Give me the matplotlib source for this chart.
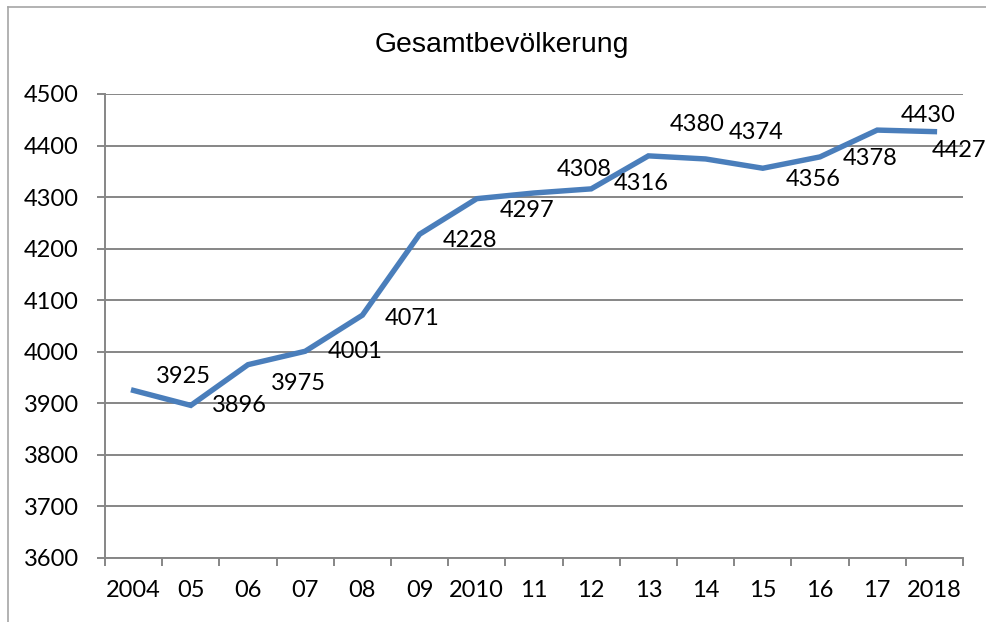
import matplotlib
matplotlib.use("Agg")
import matplotlib.pyplot as plt
from matplotlib.lines import Line2D

years = ["2004", "05", "06", "07", "08", "09", "2010", "11", "12", "13", "14", "15", "16", "17", "2018"]
population = [3925, 3896, 3975, 4001, 4071, 4228, 4297, 4308, 4316, 4380, 4374, 4356, 4378, 4430, 4427]
y_ticks = [3600, 3700, 3800, 3900, 4000, 4100, 4200, 4300, 4400, 4500]
title = "Gesamtbevölkerung"

# label offsets in pixels (dx, dy) relative to each point
label_dx = [50, 49, 50, 50, 50, 50, 50, 50, 50, 49, 51, 50, 50, 51, 25]
label_dy = [14, 0, -19, 0, -3, -6, -12, 23, 5, 31, 26, -11, -2, 15, -19]

W, H = 986, 622
fig = plt.figure(figsize=(W / 100, H / 100), dpi=100)
fig.patch.set_facecolor("white")

left, right, top, bottom = 105, 963, 94, 558
ax = fig.add_axes([left / W, 1 - bottom / H, (right - left) / W, (bottom - top) / H])

x = list(range(len(years)))
ax.plot(x, population, color="#4a7ebb", lw=3.9, solid_joinstyle="miter", zorder=3)

ax.set_xlim(-0.5, len(years) - 0.5)
ax.set_ylim(3600, 4500)

grid_c = "#868686"
ax.set_yticks(y_ticks)
ax.set_yticklabels([str(v) for v in y_ticks])
for v in y_ticks:
    ax.axhline(v, color=grid_c, lw=1.4, zorder=1)

# x: major ticks at boundaries (no labels), minor at centers with labels
ax.set_xticks([i - 0.5 for i in range(len(years) + 1)])
ax.set_xticklabels([])
ax.set_xticks(x, minor=True)
ax.set_xticklabels(years, minor=True)

for s in ["top", "right"]:
    ax.spines[s].set_visible(False)
for s in ["left", "bottom"]:
    ax.spines[s].set_color(grid_c)
    ax.spines[s].set_linewidth(1.4)

lab_font = "Lato"
fs = 17
ax.tick_params(axis="y", which="major", direction="out", length=6, width=1.4, color=grid_c,
               pad=13, labelsize=fs, labelfontfamily=lab_font)
ax.tick_params(axis="x", which="major", direction="out", length=5.5, width=1.4, color=grid_c)
ax.tick_params(axis="x", which="minor", length=0, pad=16, labelsize=fs, labelfontfamily=lab_font)

for i, v in enumerate(population):
    ax.annotate(str(v), (i, v), xytext=(label_dx[i], label_dy[i]), textcoords="offset pixels",
                ha="center", va="center", fontsize=fs, fontfamily=lab_font,
                annotation_clip=False, zorder=4)

fig.text(501.5 / W, 1 - 52 / H, title, ha="center", va="baseline",
         fontsize=20.4, fontfamily="Liberation Sans")

# outer chart frame (top and left edges visible)
frame_c = "#a6a6a6"
fig.add_artist(Line2D([8 / W, 1], [1 - 7 / H, 1 - 7 / H], color=frame_c, lw=1.2, transform=fig.transFigure))
fig.add_artist(Line2D([8 / W, 8 / W], [0, 1 - 7 / H], color=frame_c, lw=1.2, transform=fig.transFigure))

fig.savefig("out.png", dpi=100, facecolor="white")
